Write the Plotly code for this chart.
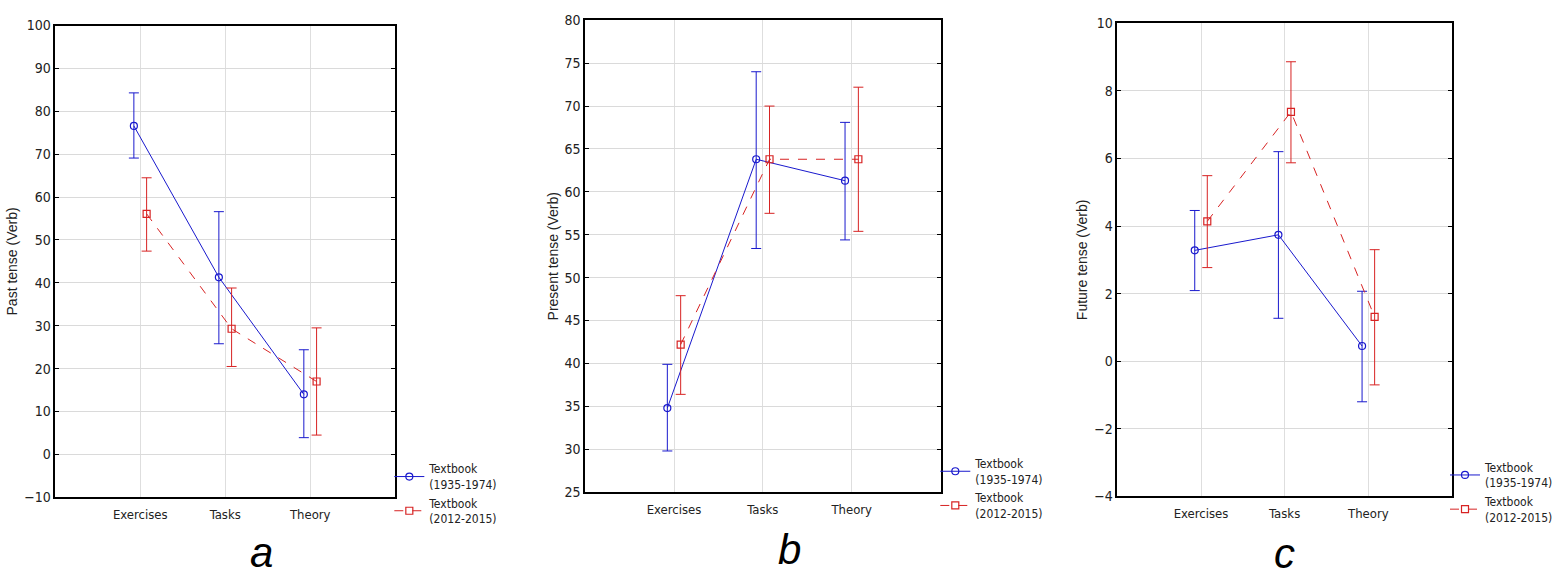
import plotly.graph_objects as go

categories = ["Exercises", "Tasks", "Theory"]
series_names = ["Textbook<br>(1935-1974)", "Textbook<br>(2012-2015)"]

# a - past tense
past_old = [76.6, 41.3, 14.0]
past_old_lo = [69.1, 25.8, 3.9]
past_old_hi = [84.3, 56.6, 24.4]
past_new = [56.1, 29.3, 17.0]
past_new_lo = [47.4, 20.5, 4.5]
past_new_hi = [64.5, 38.8, 29.5]

# b - present tense
pres_old = [34.8, 63.8, 61.3]
pres_old_lo = [29.8, 53.4, 54.4]
pres_old_hi = [39.9, 74.0, 68.1]
pres_new = [42.2, 63.8, 63.8]
pres_new_lo = [36.4, 57.5, 55.4]
pres_new_hi = [47.9, 70.0, 72.2]

# c - future tense
fut_old = [3.28, 3.74, 0.45]
fut_old_lo = [2.09, 1.27, -1.2]
fut_old_hi = [4.46, 6.2, 2.07]
fut_new = [4.14, 7.38, 1.31]
fut_new_lo = [2.77, 5.87, -0.7]
fut_new_hi = [5.49, 8.86, 3.3]

BLUE = "rgb(25,25,205)"
RED = "rgb(215,35,35)"
FONT = "Liberation Sans Narrow, DejaVu Sans Condensed, Liberation Sans, Arial"

panels = [
    dict(old=(past_old, past_old_lo, past_old_hi), new=(past_new, past_new_lo, past_new_hi),
         title="Past tense (Verb)", yrange=[-10, 100], dtick=10,
         xdom=[0.0357, 0.2553], ydom=[0.1386, 0.9691], leg=(0.2515, 0.214),
         label="a", lx=0.16, ly=0.041),
    dict(old=(pres_old, pres_old_lo, pres_old_hi), new=(pres_new, pres_new_lo, pres_new_hi),
         title="Present tense (Verb)", yrange=[25, 80], dtick=5,
         xdom=[0.378, 0.6076], ydom=[0.1476, 0.9784], leg=(0.6042, 0.2233),
         label="b", lx=0.51, ly=0.046),
    dict(old=(fut_old, fut_old_lo, fut_old_hi), new=(fut_new, fut_new_lo, fut_new_hi),
         title="Future tense (Verb)", yrange=[-4, 10], dtick=2,
         xdom=[0.7218, 0.938], ydom=[0.1401, 0.9732], leg=(0.9337, 0.2168),
         label="c", lx=0.838, ly=0.04),
]

fig = go.Figure()
pos = [0, 1, 2]
shift = 0.075

for i, p in enumerate(panels):
    n = "" if i == 0 else str(i + 1)
    legname = "legend" + n
    for k, (key, col, sym, dash) in enumerate([("old", BLUE, "circle-open", "solid"),
                                                ("new", RED, "square-open", "dash")]):
        y, lo, hi = p[key]
        off = -shift if k == 0 else shift
        fig.add_trace(go.Scatter(
            x=[v + off for v in pos], y=y,
            mode="lines+markers",
            name=series_names[k],
            line=dict(color=col, width=1, dash=dash),
            marker=dict(symbol=sym, size=7, color=col, line=dict(width=1.2, color=col)),
            error_y=dict(type="data", symmetric=False,
                         array=[h - m for h, m in zip(hi, y)],
                         arrayminus=[m - l for m, l in zip(y, lo)],
                         color=col, thickness=1, width=5),
            xaxis="x" + n, yaxis="y" + n,
            legend=legname,
        ))
    fig.update_layout(**{
        "xaxis" + n: dict(domain=p["xdom"], anchor="y" + n, range=[-1, 3],
                          tickvals=pos, ticktext=categories, showgrid=True,
                          gridcolor="rgb(222,222,222)", zeroline=False,
                          showline=True, linecolor="black", linewidth=1.5, mirror=True,
                          ticks="", ticklabelstandoff=4,
                          tickfont=dict(family=FONT, size=13, color="#222")),
        "yaxis" + n: dict(domain=p["ydom"], anchor="x" + n, range=p["yrange"],
                          dtick=p["dtick"], showgrid=True, gridcolor="rgb(218,218,218)",
                          zeroline=False, showline=True, linecolor="black", linewidth=1.5,
                          mirror="ticks", ticks="inside", ticklen=4, tickcolor="black",
                          tickfont=dict(family=FONT, size=14, color="#222"),
                          title=dict(text=p["title"], standoff=3,
                                     font=dict(family="Liberation Sans, Arial", size=14, color="#222"))),
        legname: dict(x=p["leg"][0], y=p["leg"][1], xanchor="left", yanchor="top",
                      bgcolor="rgba(0,0,0,0)", tracegroupgap=0,
                      font=dict(family=FONT, size=12, color="#222")),
    })
    fig.add_annotation(text="<i>" + p["label"] + "</i>", xref="paper", yref="paper",
                       x=p["lx"], y=p["ly"], yanchor="middle", showarrow=False,
                       font=dict(family="Liberation Sans, Arial", size=42, color="black"))

fig.update_layout(
    width=1559, height=584,
    margin=dict(l=0, r=0, t=0, b=0),
    paper_bgcolor="white", plot_bgcolor="white",
    showlegend=True,
)

fig.write_html("out.html", config={"displayModeBar": False},
               post_script="document.body.style.margin='0';")
